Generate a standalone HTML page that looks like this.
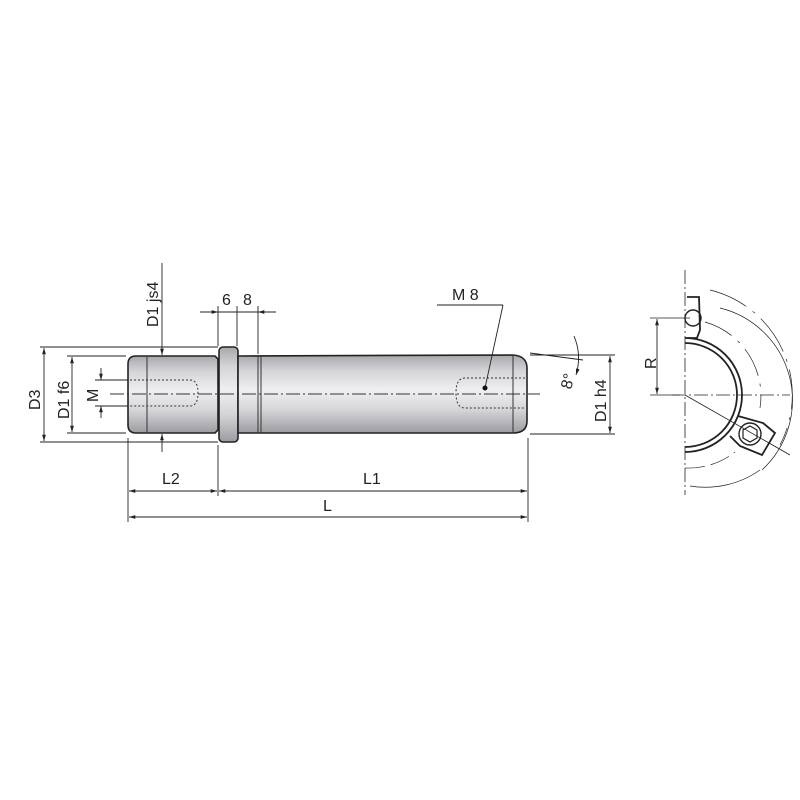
<!DOCTYPE html>
<html><head><style>body{margin:0;background:#fff}svg{display:block}</style></head><body>
<svg width="800" height="800" viewBox="0 0 800 800" xmlns="http://www.w3.org/2000/svg" font-family="Liberation Sans, sans-serif">
<defs>
<linearGradient id="g" x1="0" y1="0" x2="0" y2="1">
<stop offset="0" stop-color="#a8a8ac"/><stop offset="0.2" stop-color="#d4d4d8"/><stop offset="0.45" stop-color="#efeff1"/><stop offset="0.7" stop-color="#d6d6da"/><stop offset="1" stop-color="#9c9ca0"/>
</linearGradient>
<marker id="a" viewBox="0 0 10 10" refX="10" refY="5" markerWidth="7" markerHeight="7" orient="auto-start-reverse"><path d="M0,2 L10,5 L0,8 z" fill="#222"/></marker>
</defs>
<g stroke="#222" stroke-width="1.6">
<path d="M136,356 L215,356 L218,359 L218,430 L215,433 L136,433 Q128,433 128,425 L128,364 Q128,356 136,356 z" fill="url(#g)"/>
<rect x="219" y="347" width="19" height="95" rx="4" fill="url(#g)"/>
<path d="M238,356 L513,355 Q527,356 527,368 L527,421 Q527,433 513,433 L238,433 z" fill="url(#g)"/>
</g>
<g stroke="#333" stroke-width="1" fill="none">
<line x1="147" y1="357" x2="147" y2="432"/>
<line x1="258" y1="356" x2="258" y2="433"/><line x1="261" y1="356" x2="261" y2="433"/>
<line x1="513" y1="356" x2="513" y2="433"/>
<path d="M130,380 L190,380 Q198,380 198,393 Q198,406 190,406 L130,406" stroke-dasharray="2,2"/>
<path d="M525,378 L465,378 Q456,378 456,393 Q456,408 465,408 L525,408" stroke-dasharray="2,2"/>
<line x1="110" y1="394" x2="540" y2="394" stroke-dasharray="14,3,2,3"/>
</g>
<g stroke="#222" stroke-width="0.9" fill="none">
<line x1="40" y1="347" x2="218" y2="347"/><line x1="40" y1="442" x2="218" y2="442"/>
<line x1="44" y1="348" x2="44" y2="441" marker-start="url(#a)" marker-end="url(#a)"/>
<line x1="67" y1="356" x2="126" y2="356"/><line x1="67" y1="433" x2="126" y2="433"/>
<line x1="72" y1="357" x2="72" y2="432" marker-start="url(#a)" marker-end="url(#a)"/>
<line x1="95" y1="380" x2="128" y2="380"/><line x1="95" y1="406" x2="128" y2="406"/>
<line x1="101" y1="368" x2="101" y2="380" marker-end="url(#a)"/><line x1="101" y1="418" x2="101" y2="406" marker-end="url(#a)"/>
<line x1="162" y1="263" x2="162" y2="355" marker-end="url(#a)"/><line x1="162" y1="452" x2="162" y2="434" marker-end="url(#a)"/>
<line x1="218" y1="306" x2="218" y2="346"/><line x1="237" y1="306" x2="237" y2="346"/><line x1="258" y1="306" x2="258" y2="354"/>
<line x1="200" y1="312" x2="218" y2="312" marker-end="url(#a)"/><line x1="218" y1="312" x2="258" y2="312"/><line x1="276" y1="312" x2="258" y2="312" marker-end="url(#a)"/>
<line x1="128" y1="438" x2="128" y2="522"/><line x1="218" y1="445" x2="218" y2="496"/><line x1="528" y1="438" x2="528" y2="522"/>
<line x1="129" y1="491" x2="217" y2="491" marker-start="url(#a)" marker-end="url(#a)"/>
<line x1="219" y1="491" x2="527" y2="491" marker-start="url(#a)" marker-end="url(#a)"/>
<line x1="129" y1="517" x2="527" y2="517" marker-start="url(#a)" marker-end="url(#a)"/>
<line x1="530" y1="355" x2="615" y2="355"/><line x1="530" y1="434" x2="615" y2="434"/>
<line x1="610" y1="356" x2="610" y2="433" marker-start="url(#a)" marker-end="url(#a)"/>
<line x1="530" y1="353" x2="583" y2="360"/>
<path d="M574,336 Q582,355 576,375" marker-end="url(#a)"/>
<line x1="437" y1="305" x2="503" y2="305"/><line x1="503" y1="305" x2="485" y2="388"/>
</g>
<circle cx="485" cy="388" r="2.5" fill="#111"/>
<g font-size="16" fill="#222">
<text x="452" y="300">M 8</text>
<text x="222" y="305">6</text><text x="243" y="305">8</text>
<text x="162" y="484">L2</text><text x="363" y="484">L1</text><text x="323" y="511">L</text>
<text transform="translate(40,410) rotate(-90)">D3</text>
<text transform="translate(69,419) rotate(-90)">D1 f6</text>
<text transform="translate(98,402) rotate(-90)">M</text>
<text transform="translate(158,327) rotate(-90)">D1 js4</text>
<text transform="translate(606,422) rotate(-90)">D1 h4</text>
<text transform="translate(571,390) rotate(-75)">8°</text>
<text transform="translate(656,369) rotate(-90)">R</text>
</g>
<g stroke="#222" fill="none">
<line x1="685" y1="270" x2="685" y2="495" stroke-width="0.8" stroke-dasharray="14,3,2,3"/>
<line x1="672" y1="395" x2="790" y2="395" stroke-width="0.8" stroke-dasharray="14,3,2,3"/>
<line x1="685" y1="395" x2="790" y2="455" stroke-width="0.8"/>
<path d="M685,338 A57,57 0 0 1 685,452 M685,343 A52,52 0 0 1 685,447" stroke-width="1.8"/>
<path d="M687,297 L699,297 L700,330 L697,338 L687,338" stroke-width="1.8"/>
<circle cx="693" cy="318" r="8" stroke-width="1.4"/>
<path d="M738,416 L763,423 L775,433 L762,455 L740,446 L730,436" stroke-width="1.8"/>
<circle cx="750" cy="434" r="11" stroke-width="1.4"/>
<polygon points="750,426 757,430 757,438 750,442 743,438 743,430" stroke-width="1.2"/>
<g stroke-width="0.7">
<path d="M720,308 A95,95 0 0 1 762,470"/>
<path d="M705,322 A77,77 0 0 1 760,408" stroke-dasharray="30,8,3,8"/>
<path d="M710,290 A108,108 0 0 1 780,445" stroke-dasharray="40,8,3,8"/>
<path d="M690,486 A95,95 0 0 0 760,470"/>
<path d="M685,468 A75,75 0 0 0 735,452" stroke-dasharray="20,6"/>
</g>
<line x1="650" y1="318" x2="690" y2="318" stroke-width="0.8"/>
<line x1="650" y1="395" x2="680" y2="395" stroke-width="0.8"/>
<line x1="657" y1="319" x2="657" y2="394" stroke-width="0.9" marker-start="url(#a)" marker-end="url(#a)"/>
</g>
</svg>
</body></html>
